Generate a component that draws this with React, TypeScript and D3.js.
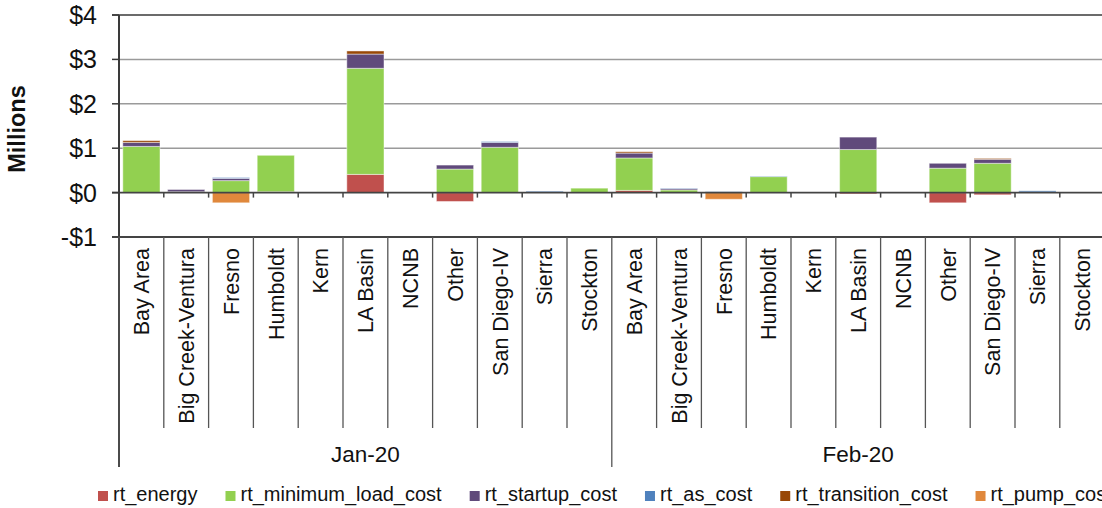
import React, { useMemo } from 'react';
import * as d3 from 'd3';

// categories
const regions = ['Bay Area', 'Big Creek-Ventura', 'Fresno', 'Humboldt', 'Kern', 'LA Basin', 'NCNB', 'Other', 'San Diego-IV', 'Sierra', 'Stockton'];
const months = ['Jan-20', 'Feb-20'];
const yTicks = [-1, 0, 1, 2, 3, 4];

// values in $ millions, Jan-20 regions then Feb-20 regions
const rtEnergy = [0, 0, 0, 0.02, 0, 0.41, 0, -0.2, 0, 0, 0, 0.05, 0, 0, 0, 0, -0.03, 0, -0.23, -0.05, 0, 0];
const rtMinimumLoadCost = [1.04, 0.02, 0.27, 0.82, 0, 2.39, 0, 0.53, 1.02, 0.015, 0.1, 0.73, 0.06, 0, 0.36, 0, 0.97, 0, 0.55, 0.66, 0.01, 0];
const rtStartupCost = [0.09, 0.05, 0.05, 0, 0, 0.32, 0, 0.09, 0.11, 0, 0, 0.11, 0.03, 0, 0, 0, 0.28, 0, 0.11, 0.09, 0, 0];
const rtAsCost = [0, 0, 0.02, 0, 0, 0, 0, 0, 0.02, 0.02, 0, 0, 0.01, 0.02, 0.01, 0, 0, 0, 0, 0, 0.03, 0];
const rtTransitionCost = [0.04, 0, 0, 0, 0, 0.07, 0, 0, 0, 0, 0, 0.03, 0, 0, 0, 0, 0, 0, 0, 0.02, 0, 0];
const rtPumpCost = [0, 0, -0.23, 0, 0, 0, 0, 0, 0, 0, 0, 0, 0, -0.15, 0, 0, 0, 0, 0, 0, 0, 0];

const seriesNames = ['rt_energy', 'rt_minimum_load_cost', 'rt_startup_cost', 'rt_as_cost', 'rt_transition_cost', 'rt_pump_cost'];
const seriesValues = [rtEnergy, rtMinimumLoadCost, rtStartupCost, rtAsCost, rtTransitionCost, rtPumpCost];
const colors = ['#C0504D', '#92D050', '#604A7B', '#4F81BD', '#984807', '#E0883C'];

const FONT = '"Liberation Sans", Arial, sans-serif';

const App: React.FC = () => {
  const width = 1102;
  const height = 508;
  const left = 119;
  const step = 44.8;
  const n = months.length * regions.length;

  const rows = d3.range(n).map(i => {
    const row: { [k: string]: number } = { idx: i };
    seriesNames.forEach((s, j) => { row[s] = seriesValues[j][i]; });
    return row;
  });

  const stacked = d3.stack<{ [k: string]: number }>()
    .keys(seriesNames)
    .offset(d3.stackOffsetDiverging)(rows);

  const x = d3.scaleBand<number>()
    .domain(d3.range(n))
    .range([left, left + step * n])
    .paddingInner(0.17)
    .paddingOuter(0.085);

  const y = d3.scaleLinear().domain([-1, 4]).range([237, 15]);

  const color = d3.scaleOrdinal<string>().domain(seriesNames).range(colors);

  // legend layout from text widths
  const legend = useMemo(() => {
    const ctx = document.createElement('canvas').getContext('2d');
    if (ctx) ctx.font = `20px ${FONT}`;
    let cx = 98;
    return seriesNames.map(name => {
      const w = ctx ? ctx.measureText(name).width : name.length * 10;
      const item = { name, x: cx };
      cx += 15 + w + 28;
      return item;
    });
  }, []);

  const boundaries = d3.range(n + 1).map(i => left + i * step);
  const axisColor = '#3a3a3a';

  return (
    <svg width={width} height={height} style={{ position: 'absolute', left: 0, top: 0, fontFamily: FONT }}>
      <rect width={width} height={height} fill="#fff" />

      {/* gridlines */}
      {yTicks.filter(t => t > 0 && t < 4).map(t => (
        <line key={t} x1={left} x2={width} y1={y(t)} y2={y(t)} stroke="#9a9a9a" strokeWidth={1.5} />
      ))}
      <line x1={112} x2={width} y1={y(4)} y2={y(4)} stroke={axisColor} strokeWidth={1.5} />

      {/* bars */}
      {stacked.map(layer => (
        <g key={layer.key} fill={color(layer.key)}>
          {layer.map((d, i) => {
            const h = Math.abs(y(d[0]) - y(d[1]));
            if (h < 0.01) return null;
            return (
              <rect key={i} x={x(i)} width={x.bandwidth()} y={Math.min(y(d[0]), y(d[1]))} height={h}
                stroke="#fff" strokeOpacity={0.45} strokeWidth={1} />
            );
          })}
        </g>
      ))}

      {/* zero line with category ticks */}
      <line x1={112} x2={width} y1={y(0)} y2={y(0)} stroke="#444" strokeWidth={1.8} />
      {boundaries.slice(1).map((bx, i) => (
        <line key={i} x1={bx} x2={bx} y1={y(0)} y2={y(0) + 5} stroke="#444" strokeWidth={1.5} />
      ))}

      {/* y axis */}
      <line x1={left} x2={left} y1={y(4)} y2={467} stroke={axisColor} strokeWidth={2} />
      {yTicks.map(t => (
        <g key={t}>
          <line x1={112} x2={left} y1={y(t)} y2={y(t)} stroke={axisColor} strokeWidth={1.5} />
          <text x={97} y={y(t)} dy="0.36em" textAnchor="end" fontSize={25} fill="#111">
            {t < 0 ? `-$${Math.abs(t)}` : `$${t}`}
          </text>
        </g>
      ))}
      <text transform={`translate(25,129) rotate(-90)`} textAnchor="middle" fontSize={23.5} fontWeight="bold" fill="#111">
        Millions
      </text>

      {/* category axis */}
      <line x1={112} x2={width} y1={y(-1)} y2={y(-1)} stroke="#444" strokeWidth={1.8} />
      {boundaries.map((bx, i) => (
        <line key={i} x1={bx} x2={bx} y1={y(-1)} y2={i % regions.length === 0 ? 467 : 428}
          stroke="#555" strokeWidth={1.3} />
      ))}
      {d3.range(n).map(i => (
        <text key={i} transform={`translate(${x(i)! + x.bandwidth() / 2},248) rotate(-90)`} dy="0.36em"
          textAnchor="end" fontSize={21.5} fill="#111">
          {regions[i % regions.length]}
        </text>
      ))}
      {months.map((m, k) => (
        <text key={m} x={left + step * regions.length * (k + 0.5)} y={462} textAnchor="middle" fontSize={22.5} fill="#111">
          {m}
        </text>
      ))}

      {/* legend */}
      {legend.map(item => (
        <g key={item.name}>
          <rect x={item.x} y={491} width={10} height={10} fill={color(item.name)} />
          <text x={item.x + 15} y={501} fontSize={20} fill="#111">{item.name}</text>
        </g>
      ))}
    </svg>
  );
};

export default App;
